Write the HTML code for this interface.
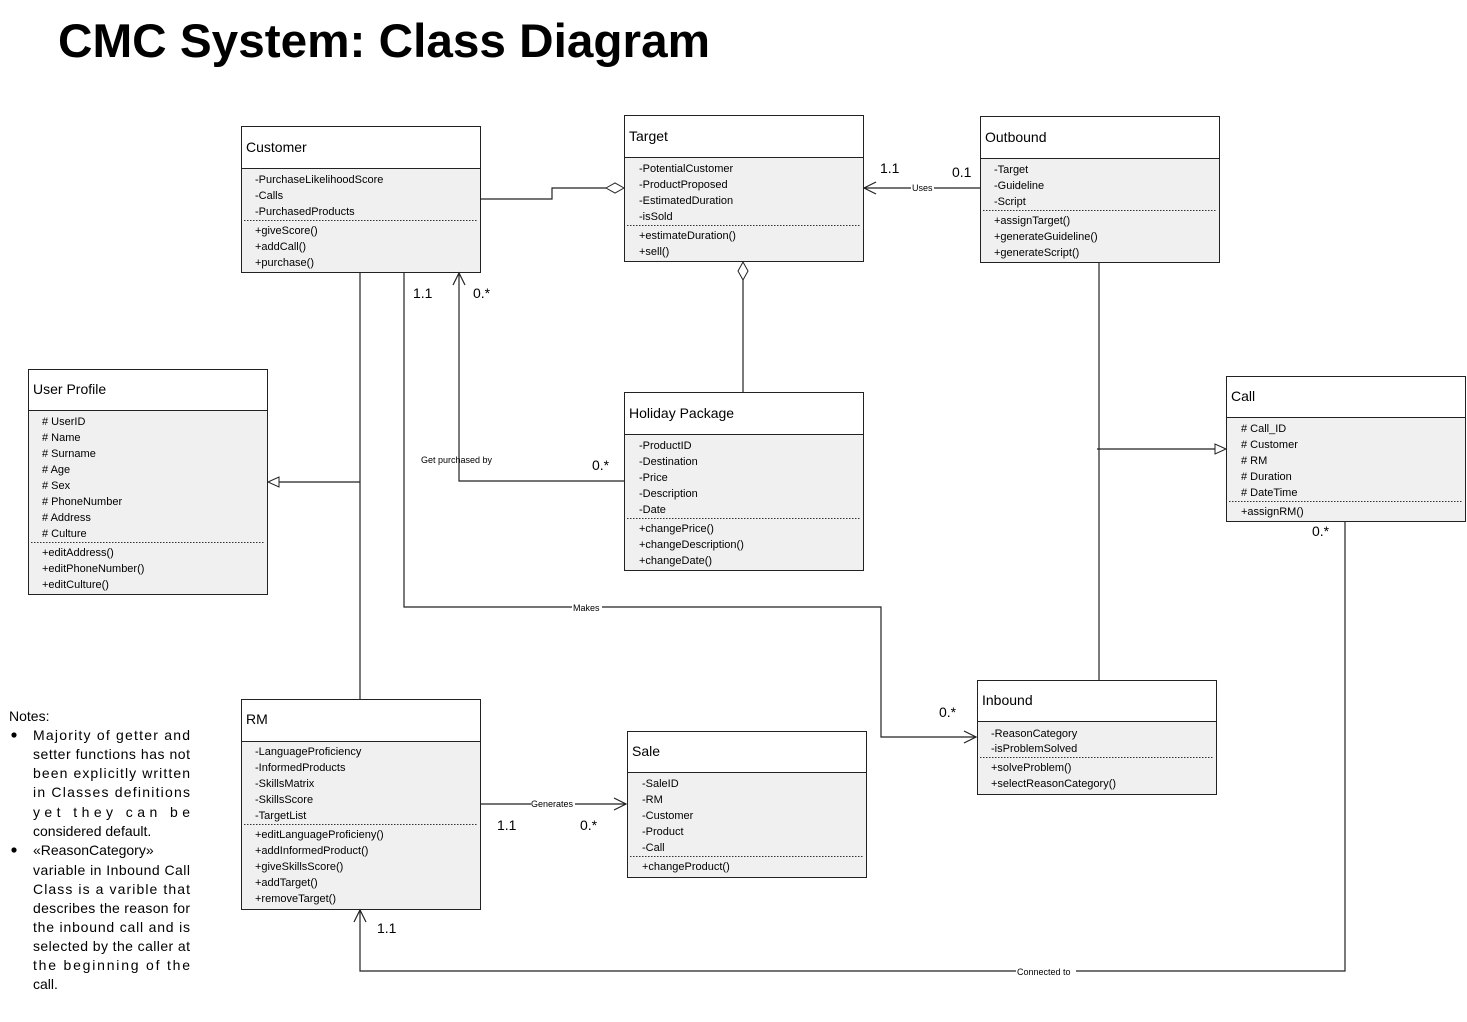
<!DOCTYPE html>
<html><head><meta charset="utf-8"><style>
body{margin:0;background:#fff;}
svg{display:block;font-family:"Liberation Sans",Arial,sans-serif;}
.h{font-size:14px;fill:#000;}
.a{font-size:11px;fill:#000;}
.l{font-size:14px;fill:#000;}
.s{font-size:9px;fill:#000;}
.n{font-size:14px;fill:#000;}
.box{fill:#f0f0f0;stroke:#222;stroke-width:1;}
.hd{fill:#fff;stroke:#222;stroke-width:1;}
.dot{stroke:#333;stroke-dasharray:1.5,1.5;stroke-width:1;}
.ln{fill:none;stroke:#222;stroke-width:1.2;}
</style></head><body>
<svg width="1467" height="1022" viewBox="0 0 1467 1022">
<text x="58" y="57" style="font-size:47px;font-weight:bold;" textLength="652" lengthAdjust="spacingAndGlyphs">CMC System: Class Diagram</text>

<!-- Customer -->
<rect class="box" x="241.5" y="126.5" width="239" height="146"/>
<rect class="hd" x="241.5" y="126.5" width="239" height="42"/>
<text class="h" x="246" y="152">Customer</text>
<g class="a"><text x="255" y="183">-PurchaseLikelihoodScore</text><text x="255" y="199">-Calls</text><text x="255" y="215">-PurchasedProducts</text>
<text x="255" y="234">+giveScore()</text><text x="255" y="250">+addCall()</text><text x="255" y="266">+purchase()</text></g>
<line class="dot" x1="244" y1="220.5" x2="478" y2="220.5"/>

<!-- Target -->
<rect class="box" x="624.5" y="115.5" width="239" height="146"/>
<rect class="hd" x="624.5" y="115.5" width="239" height="42"/>
<text class="h" x="629" y="141">Target</text>
<g class="a"><text x="639" y="172">-PotentialCustomer</text><text x="639" y="188">-ProductProposed</text><text x="639" y="204">-EstimatedDuration</text><text x="639" y="220">-isSold</text>
<text x="639" y="239">+estimateDuration()</text><text x="639" y="255">+sell()</text></g>
<line class="dot" x1="627" y1="225.5" x2="861" y2="225.5"/>

<!-- Outbound -->
<rect class="box" x="980.5" y="116.5" width="239" height="146"/>
<rect class="hd" x="980.5" y="116.5" width="239" height="42"/>
<text class="h" x="985" y="142">Outbound</text>
<g class="a"><text x="994" y="173">-Target</text><text x="994" y="189">-Guideline</text><text x="994" y="205">-Script</text>
<text x="994" y="224">+assignTarget()</text><text x="994" y="240">+generateGuideline()</text><text x="994" y="256">+generateScript()</text></g>
<line class="dot" x1="983" y1="210.5" x2="1217" y2="210.5"/>

<!-- User Profile -->
<rect class="box" x="28.5" y="369.5" width="239" height="225"/>
<rect class="hd" x="28.5" y="369.5" width="239" height="41"/>
<text class="h" x="33" y="394">User Profile</text>
<g class="a"><text x="42" y="425"># UserID</text><text x="42" y="441"># Name</text><text x="42" y="457"># Surname</text><text x="42" y="473"># Age</text><text x="42" y="489"># Sex</text><text x="42" y="505"># PhoneNumber</text><text x="42" y="521"># Address</text><text x="42" y="537"># Culture</text>
<text x="42" y="556">+editAddress()</text><text x="42" y="572">+editPhoneNumber()</text><text x="42" y="588">+editCulture()</text></g>
<line class="dot" x1="31" y1="542.5" x2="265" y2="542.5"/>

<!-- Holiday Package -->
<rect class="box" x="624.5" y="392.5" width="239" height="178"/>
<rect class="hd" x="624.5" y="392.5" width="239" height="42"/>
<text class="h" x="629" y="418">Holiday Package</text>
<g class="a"><text x="639" y="449">-ProductID</text><text x="639" y="465">-Destination</text><text x="639" y="481">-Price</text><text x="639" y="497">-Description</text><text x="639" y="513">-Date</text>
<text x="639" y="532">+changePrice()</text><text x="639" y="548">+changeDescription()</text><text x="639" y="564">+changeDate()</text></g>
<line class="dot" x1="627" y1="518.5" x2="861" y2="518.5"/>

<!-- Call -->
<rect class="box" x="1226.5" y="376.5" width="239" height="145"/>
<rect class="hd" x="1226.5" y="376.5" width="239" height="41"/>
<text class="h" x="1231" y="401">Call</text>
<g class="a"><text x="1241" y="432"># Call_ID</text><text x="1241" y="448"># Customer</text><text x="1241" y="464"># RM</text><text x="1241" y="480"># Duration</text><text x="1241" y="496"># DateTime</text>
<text x="1241" y="515">+assignRM()</text></g>
<line class="dot" x1="1229" y1="501.5" x2="1463" y2="501.5"/>

<!-- Inbound -->
<rect class="box" x="977.5" y="680.5" width="239" height="114"/>
<rect class="hd" x="977.5" y="680.5" width="239" height="41"/>
<text class="h" x="982" y="705">Inbound</text>
<g class="a"><text x="991" y="737">-ReasonCategory</text><text x="991" y="752">-isProblemSolved</text>
<text x="991" y="771">+solveProblem()</text><text x="991" y="787">+selectReasonCategory()</text></g>
<line class="dot" x1="980" y1="757.5" x2="1214" y2="757.5"/>

<!-- RM -->
<rect class="box" x="241.5" y="699.5" width="239" height="210"/>
<rect class="hd" x="241.5" y="699.5" width="239" height="42"/>
<text class="h" x="246" y="724">RM</text>
<g class="a"><text x="255" y="755">-LanguageProficiency</text><text x="255" y="771">-InformedProducts</text><text x="255" y="787">-SkillsMatrix</text><text x="255" y="803">-SkillsScore</text><text x="255" y="819">-TargetList</text>
<text x="255" y="838">+editLanguageProficieny()</text><text x="255" y="854">+addInformedProduct()</text><text x="255" y="870">+giveSkillsScore()</text><text x="255" y="886">+addTarget()</text><text x="255" y="902">+removeTarget()</text></g>
<line class="dot" x1="244" y1="824.5" x2="478" y2="824.5"/>

<!-- Sale -->
<rect class="box" x="627.5" y="731.5" width="239" height="146"/>
<rect class="hd" x="627.5" y="731.5" width="239" height="41"/>
<text class="h" x="632" y="756">Sale</text>
<g class="a"><text x="642" y="787">-SaleID</text><text x="642" y="803">-RM</text><text x="642" y="819">-Customer</text><text x="642" y="835">-Product</text><text x="642" y="851">-Call</text>
<text x="642" y="870">+changeProduct()</text></g>
<line class="dot" x1="630" y1="856.5" x2="864" y2="856.5"/>

<!-- Connectors -->
<polyline class="ln" points="480,199 552,199 552,188 606,188"/>
<polygon points="606,188 615,183 624,188 615,193" fill="#fff" stroke="#222"/>

<line class="ln" x1="980" y1="188" x2="864" y2="188"/>
<polyline class="ln" points="876,182 864,188 876,194"/>
<rect x="911" y="183" width="23" height="9" fill="#fff"/>
<text class="s" x="912" y="191">Uses</text>
<text class="l" x="880" y="173">1.1</text>
<text class="l" x="952" y="177">0.1</text>

<line class="ln" x1="743" y1="392" x2="743" y2="280"/>
<polygon points="743,262 748,271 743,280 738,271" fill="#fff" stroke="#222"/>

<line class="ln" x1="360" y1="272" x2="360" y2="699"/>
<line class="ln" x1="360" y1="482" x2="279" y2="482"/>
<polygon points="268,482 279,477 279,487" fill="#fff" stroke="#222"/>

<polyline class="ln" points="404,272 404,607 881,607 881,737 976,737"/>
<polyline class="ln" points="964,731 976,737 964,743"/>
<rect x="572" y="603" width="30" height="9" fill="#fff"/>
<text class="s" x="573" y="611">Makes</text>
<text class="l" x="413" y="298">1.1</text>
<text class="l" x="939" y="717">0.*</text>

<polyline class="ln" points="624,481 459,481 459,273"/>
<polyline class="ln" points="453,285 459,273 465,285"/>
<text class="s" x="421" y="463">Get purchased by</text>
<text class="l" x="473" y="298">0.*</text>
<text class="l" x="592" y="470">0.*</text>

<line class="ln" x1="1099" y1="262" x2="1099" y2="680"/>
<polyline class="ln" points="1097,449 1097,449 1215,449"/>
<polygon points="1226,449 1215,444 1215,454" fill="#fff" stroke="#222"/>

<polyline class="ln" points="1345,521 1345,971 360,971 360,910"/>
<polyline class="ln" points="354,922 360,910 366,922"/>
<rect x="1016" y="967" width="60" height="9" fill="#fff"/>
<text class="s" x="1017" y="975">Connected to</text>
<text class="l" x="1312" y="536">0.*</text>
<text class="l" x="377" y="933">1.1</text>

<line class="ln" x1="480" y1="804" x2="626" y2="804"/>
<polyline class="ln" points="614,798 626,804 614,810"/>
<rect x="531" y="799" width="44" height="9" fill="#fff"/>
<text class="s" x="531" y="807">Generates</text>
<text class="l" x="497" y="830">1.1</text>
<text class="l" x="580" y="830">0.*</text>

<!-- Notes -->
<g class="n">
<text x="9" y="721">Notes:</text>
<circle cx="14" cy="735" r="2.6"/>
<circle cx="14" cy="850" r="2.6"/>
<text x="33" y="740" textLength="157" lengthAdjust="spacing">Majority of getter and</text>
<text x="33" y="759" textLength="157" lengthAdjust="spacing">setter functions has not</text>
<text x="33" y="778" textLength="157" lengthAdjust="spacing">been explicitly written</text>
<text x="33" y="797" textLength="157" lengthAdjust="spacing">in Classes definitions</text>
<text x="33" y="817" textLength="157" lengthAdjust="spacing">yet they can be</text>
<text x="33" y="836">considered default.</text>
<text x="33" y="855">«ReasonCategory»</text>
<text x="33" y="875" textLength="157" lengthAdjust="spacing">variable in Inbound Call</text>
<text x="33" y="894" textLength="157" lengthAdjust="spacing">Class is a varible that</text>
<text x="33" y="913" textLength="157" lengthAdjust="spacing">describes the reason for</text>
<text x="33" y="932" textLength="157" lengthAdjust="spacing">the inbound call and is</text>
<text x="33" y="951" textLength="157" lengthAdjust="spacing">selected by the caller at</text>
<text x="33" y="970" textLength="157" lengthAdjust="spacing">the beginning of the</text>
<text x="33" y="989">call.</text>
</g>
</svg>
</body></html>
